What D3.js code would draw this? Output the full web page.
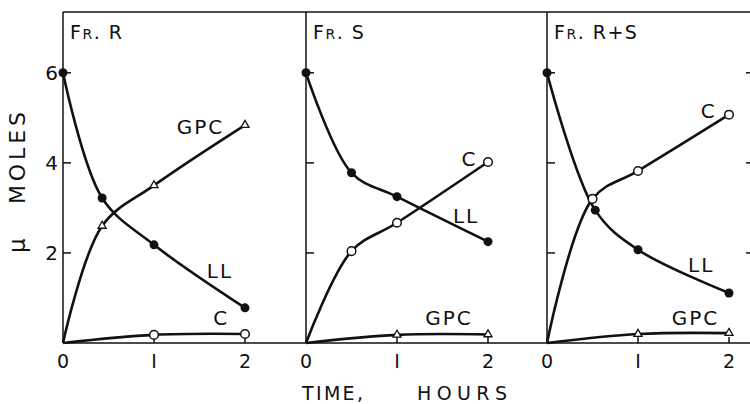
<!DOCTYPE html>
<html>
<head>
<meta charset="utf-8">
<script src="https://cdn.jsdelivr.net/npm/d3@7"></script>
<style>
  body { margin: 0; background: #fff; }
  svg { display: block; }
  text { font-family: 'DejaVu Sans', sans-serif; fill: #111; }
</style>
</head>
<body>
<svg id="chart" width="750" height="404"></svg>
<script>
// values (umoles vs time in hours)
const xTicks = [0, 1, 2]
const yTicks = [2, 4, 6]

// Fr. R
const rLL = [[0, 6], [0.43, 3.22], [1, 2.18], [2, 0.78]]
const rGPC = [[0, 0], [0.43, 2.6], [1, 3.5], [2, 4.84]]
const rC = [[0, 0], [1, 0.18], [2, 0.2]]

// Fr. S
const sLL = [[0, 6], [0.5, 3.78], [1, 3.25], [2, 2.25]]
const sC = [[0, 0], [0.5, 2.04], [1, 2.67], [2, 4.02]]
const sGPC = [[0, 0], [1, 0.18], [2, 0.19]]

// Fr. R+S
const rsLL = [[0, 6], [0.53, 2.95], [1, 2.07], [2, 1.11]]
const rsC = [[0, 0], [0.5, 3.2], [1, 3.82], [2, 5.07]]
const rsGPC = [[0, 0], [1, 0.2], [2, 0.22]]

const svg = d3.select('#chart')
const W = 750
const yTop = 12, yBottom = 343
const pxPerHour = 91
const panelLeft = [63, 306, 547]

const y = d3.scaleLinear().domain([0, 7.35]).range([yBottom, yTop])

// label anchors in data units, kept apart from the values
const panels = [
  { title: ['F', 'R', '. R'], series: [
    { name: 'LL', mark: 'dot', data: rLL, at: [1.58, 1.44] },
    { name: 'GPC', mark: 'tri', data: rGPC, at: [1.25, 4.64] },
    { name: 'C', mark: 'ring', data: rC, at: [1.65, 0.4] }
  ] },
  { title: ['F', 'R', '. S'], series: [
    { name: 'LL', mark: 'dot', data: sLL, at: [1.615, 2.67] },
    { name: 'C', mark: 'ring', data: sC, at: [1.71, 3.93] },
    { name: 'GPC', mark: 'tri', data: sGPC, at: [1.31, 0.4] }
  ] },
  { title: ['F', 'R', '. R+S'], series: [
    { name: 'LL', mark: 'dot', data: rsLL, at: [1.55, 1.58] },
    { name: 'C', mark: 'ring', data: rsC, at: [1.69, 5.0] },
    { name: 'GPC', mark: 'tri', data: rsGPC, at: [1.37, 0.4] }
  ] }
]

// frame: top rule, baseline
svg.append('line').attr('x1', panelLeft[0]).attr('x2', W).attr('y1', yTop).attr('y2', yTop)
  .attr('stroke', '#111').attr('stroke-width', 1.5)
svg.append('line').attr('x1', panelLeft[0]).attr('x2', W).attr('y1', yBottom).attr('y2', yBottom)
  .attr('stroke', '#111').attr('stroke-width', 1.5)

// right edge ticks
svg.selectAll('.rtick').data(yTicks).join('line')
  .attr('x1', W - 4).attr('x2', W).attr('y1', d => y(d)).attr('y2', d => y(d))
  .attr('stroke', '#111').attr('stroke-width', 1.5)

const line = d3.line().curve(d3.curveCatmullRom.alpha(0.5))

panels.forEach((p, i) => {
  const x0 = panelLeft[i]
  const x = d3.scaleLinear().domain([0, 1]).range([x0, x0 + pxPerHour])
  const g = svg.append('g')

  // left axis of the panel with inward ticks
  g.append('line').attr('x1', x0).attr('x2', x0).attr('y1', yTop).attr('y2', yBottom)
    .attr('stroke', '#111').attr('stroke-width', 1.5)
  g.selectAll('.ytick').data(yTicks).join('line')
    .attr('x1', x0).attr('x2', x0 + 8).attr('y1', d => y(d)).attr('y2', d => y(d))
    .attr('stroke', '#111').attr('stroke-width', 1.5)
  if (i === 0) {
    g.selectAll('.ylab').data(yTicks).join('text')
      .attr('x', x0 - 5).attr('y', d => y(d) + 7)
      .attr('text-anchor', 'end').attr('font-size', 20)
      .text(d => d)
  }

  // x ticks and labels
  g.selectAll('.xtick').data(xTicks.slice(1)).join('line')
    .attr('x1', d => x(d)).attr('x2', d => x(d)).attr('y1', yBottom).attr('y2', yBottom - 6)
    .attr('stroke', '#111').attr('stroke-width', 1.5)
  g.selectAll('.xlab').data(xTicks).join('text')
    .attr('x', d => x(d)).attr('y', 368)
    .attr('text-anchor', 'middle').attr('font-size', 19)
    .text(d => d === 1 ? 'I' : d)

  // title with small-caps R
  const t = g.append('text').attr('x', x0 + 7).attr('y', 39).attr('font-size', 19)
    .attr('letter-spacing', 1.5)
  t.append('tspan').text(p.title[0])
  t.append('tspan').attr('font-size', 14).text(p.title[1])
  t.append('tspan').text(p.title[2])

  p.series.forEach(s => {
    const pts = s.data.map(d => [x(d[0]), y(d[1])])
    g.append('path').attr('d', line(pts))
      .attr('fill', 'none').attr('stroke', '#111').attr('stroke-width', 2.6)

    const marks = s.data.slice(1)
    if (s.mark === 'dot') {
      g.selectAll(null).data(s.data).join('circle')
        .attr('cx', d => x(d[0])).attr('cy', d => y(d[1])).attr('r', 4.5)
        .attr('fill', '#111')
    } else if (s.mark === 'ring') {
      g.selectAll(null).data(marks).join('circle')
        .attr('cx', d => x(d[0])).attr('cy', d => y(d[1])).attr('r', 4.3)
        .attr('fill', '#fff').attr('stroke', '#111').attr('stroke-width', 1.5)
    } else {
      g.selectAll(null).data(marks).join('path')
        .attr('d', d3.symbol(d3.symbolTriangle, 28)())
        .attr('transform', d => `translate(${x(d[0])},${y(d[1])})`)
        .attr('fill', '#fff').attr('stroke', '#111').attr('stroke-width', 1.3)
    }

    g.append('text').attr('x', x(s.at[0])).attr('y', y(s.at[1]))
      .attr('font-size', 20).attr('letter-spacing', 2)
      .text(s.name)
  })
})

// axis titles
svg.append('text').attr('x', 302).attr('y', 400)
  .attr('font-size', 19).attr('textLength', 61).attr('lengthAdjust', 'spacing')
  .text('TIME,')
svg.append('text').attr('x', 417).attr('y', 400)
  .attr('font-size', 19).attr('textLength', 90).attr('lengthAdjust', 'spacing')
  .text('HOURS')

svg.append('text').attr('transform', 'translate(25,253) rotate(-90)')
  .attr('font-size', 23).text('\u03bc')
svg.append('text').attr('transform', 'translate(25,204) rotate(-90)')
  .attr('font-size', 22).attr('textLength', 92).attr('lengthAdjust', 'spacing')
  .text('MOLES')
</script>
</body>
</html>
